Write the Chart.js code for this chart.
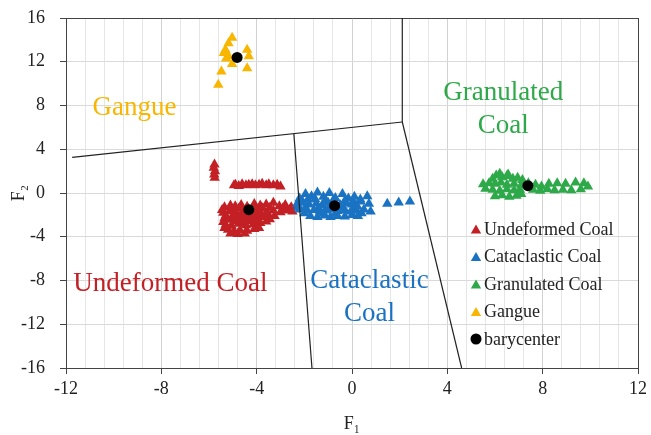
<!DOCTYPE html>
<html><head><meta charset="utf-8">
<script src="https://cdn.jsdelivr.net/npm/chart.js@4.4.1/dist/chart.umd.min.js"></script>
<style>html,body{margin:0;padding:0;background:#fff}#wrap{width:651px;height:435px;position:relative}</style>
</head><body><div id="wrap"><canvas id="c"></canvas></div>
<script>
const seriesNames = ['Undeformed Coal', 'Cataclastic Coal', 'Granulated Coal', 'Gangue', 'barycenter'];
const seriesColors = ['#C32025', '#1A73C2', '#2EA949', '#F8B600', '#000000'];

const undeformedCoal = [
  [-5.77,2.6],[-5.8,2.3],[-5.75,2.0],[-5.78,1.7],[-5.76,1.4],
  [-4.95,0.7],[-4.89,0.75],[-4.75,0.65],[-4.61,0.8],[-4.45,0.7],[-4.33,0.75],[-4.19,0.8],[-4.05,0.7],[-3.9,0.75],[-3.77,0.85],[-3.6,0.7],[-3.49,0.8],[-3.3,0.7],[-3.14,0.75],[-3.0,0.6],
  [-5.35,-1.3],[-5.1,-1.15],[-4.9,-1.2],[-4.65,-1.1],[-4.4,-1.25],[-4.1,-1.0],[-3.85,-1.15],[-3.6,-1.05],[-3.3,-0.9],[-3.05,-1.2],[-2.8,-1.1],[-2.55,-1.3],[-2.35,-1.25],
  [-5.45,-1.55],[-5.0,-1.5],[-4.75,-1.45],[-4.0,-1.45],[-3.75,-1.4],[-3.45,-1.35],[-2.9,-1.4],[-2.6,-1.5],
  [-5.4,-1.8],[-5.15,-1.7],[-4.85,-1.9],[-4.6,-1.75],[-4.2,-1.8],[-3.9,-1.7],[-3.6,-1.85],[-3.3,-1.6],[-3.0,-1.75],[-2.75,-1.6],[-2.5,-1.7],
  [-5.3,-2.05],[-5.0,-2.1],[-4.65,-2.05],[-4.35,-2.0],[-4.05,-2.05],[-3.8,-1.95],[-3.5,-2.0],
  [-5.35,-2.3],[-5.1,-2.45],[-4.8,-2.3],[-4.5,-2.4],[-4.25,-2.2],[-3.95,-2.35],[-3.7,-2.2],[-3.45,-2.4],[-3.25,-2.1],
  [-5.4,-2.65],[-4.95,-2.6],[-4.6,-2.65],[-4.3,-2.55],[-4.0,-2.6],
  [-5.3,-2.9],[-5.05,-3.0],[-4.75,-2.8],[-4.45,-2.95],[-4.15,-2.85],[-3.85,-2.75],[-3.6,-2.6],
  [-5.35,-3.2],[-5.2,-3.35],[-4.95,-3.5],[-4.7,-3.4],[-4.4,-3.45],[-4.1,-3.3],[-3.9,-3.2],[-5.1,-3.7],[-4.8,-3.75],[-4.5,-3.7]
];
const cataclasticCoal = [
  [-2.2,-0.5],[-1.95,-0.1],[-1.7,-0.3],[-1.45,0.05],[-1.2,-0.35],[-0.95,0.0],[-0.7,-0.45],[-0.4,-0.1],[-0.15,-0.5],[0.1,-0.35],[0.35,-0.6],[0.64,-0.3],
  [-2.1,-0.7],[-1.85,-0.6],[-1.55,-0.55],[-1.1,-0.65],[-0.8,-0.7],[-0.3,-0.7],[0.05,-0.75],
  [-2.3,-1.0],[-2.05,-0.9],[-1.8,-1.05],[-1.5,-0.95],[-1.25,-1.1],[-1.0,-0.9],[-0.75,-1.0],[-0.5,-1.1],[-0.25,-0.95],[0.0,-1.05],[0.22,-1.2],[0.36,-0.77],[0.71,-0.98],[1.48,-0.98],[1.96,-0.86],[2.43,-0.77],
  [-2.25,-1.3],[-1.95,-1.3],[-1.4,-1.35],[-0.95,-1.3],[-0.45,-1.35],[0.1,-1.4],
  [-2.2,-1.5],[-1.9,-1.6],[-1.6,-1.55],[-1.35,-1.7],[-1.1,-1.6],[-0.85,-1.5],[-0.6,-1.65],[-0.3,-1.55],[-0.05,-1.7],[0.2,-1.6],[0.5,-1.5],[0.78,-1.68],
  [-2.0,-1.85],[-1.2,-1.85],[-0.7,-1.9],[0.4,-1.85],
  [-1.75,-2.1],[-1.45,-2.2],[-1.15,-2.05],[-0.9,-2.2],[-0.6,-2.1],[-0.3,-2.15],[0.0,-2.0],[0.25,-2.1]
];
const granulatedCoal = [
  [6.2,1.75],[6.55,1.7],
  [5.9,1.3],[6.05,1.6],[6.3,1.45],[6.5,1.55],[6.75,1.3],[6.95,1.4],[7.15,1.2],
  [5.5,0.8],[5.75,0.9],[6.0,0.85],[6.25,0.95],[6.5,0.75],[6.8,0.85],[7.1,0.7],[7.4,0.9],[7.7,0.75],[7.95,0.6],[8.26,0.85],[8.61,0.9],[8.96,0.85],[9.38,0.95],[9.73,0.9],[9.9,0.6],
  [5.6,0.4],[5.9,0.3],[6.2,0.2],[6.5,0.35],[6.8,0.25],[7.05,0.3],[7.6,0.3],[7.9,0.2],[8.2,0.35],[8.5,0.25],[8.85,0.3],[9.2,0.25],[9.6,0.35],
  [6.0,-0.3],[6.3,-0.2],[6.6,-0.35],[6.9,-0.25],[7.1,-0.1]
];
const gangue = [
  [-5.03,14.2],[-5.18,13.7],[-5.31,13.1],[-5.38,12.8],[-4.4,13.1],[-4.33,12.5],[-5.03,11.8],[-4.4,11.4],[-5.48,11.1],[-5.61,9.9],[-5.18,12.5],[-5.28,12.3]
];
const barycenters = [[-4.33,-1.53],[-0.73,-1.16],[7.38,0.67],[-4.82,12.4]];

const boundaryLines = [
  [[-11.74,3.25],[2.11,6.49]],
  [[2.11,6.49],[2.11,16]],
  [[2.11,6.49],[4.6,-16]],
  [[-2.44,5.39],[-1.68,-16]]
];
const regionLabelLines = [['Gangue'], ['Granulated', 'Coal'], ['Undeformed Coal'], ['Cataclastic', 'Coal']];
const xRange = [-12, 12];
const yRange = [-16, 16];
const axisTitles = ['F\u2081', 'F\u2082'];

const FONT = "'Liberation Serif', 'Times New Roman', serif";
Chart.defaults.font.family = FONT;
Chart.defaults.color = '#222';

const toXY = arr => arr.map(p => ({x: p[0], y: p[1]}));
const pointSets = [undeformedCoal, cataclasticCoal, granulatedCoal, gangue, barycenters];

const datasets = [];
boundaryLines.forEach(seg => datasets.push({
  data: toXY(seg), showLine: true, borderColor: '#222', borderWidth: 1.2,
  pointRadius: 0, fill: false, order: -1, legendEntry: false
}));
pointSets.forEach((set, i) => datasets.push({
  label: seriesNames[i], data: toXY(set),
  backgroundColor: seriesColors[i], borderColor: seriesColors[i],
  pointStyle: i === 4 ? 'circle' : 'triangle',
  pointRadius: i === 4 ? 5.5 : 6, borderWidth: 0, pointBorderWidth: 0,
  order: 4 - i, legendEntry: true
}));

const isMajorX = v => Math.abs(Math.round(v * 10) / 10 % 4) < 1e-6;

const regionLabelPlugin = {
  id: 'regionLabels',
  afterDatasetsDraw(chart, args, opts) {
    const {ctx, scales} = chart;
    ctx.save();
    ctx.font = opts.size + 'px ' + FONT;
    ctx.textAlign = 'center';
    ctx.textBaseline = 'alphabetic';
    opts.items.forEach((it, k) => {
      ctx.fillStyle = seriesColors[it.series];
      const px = scales.x.getPixelForValue(it.x);
      const py = scales.y.getPixelForValue(it.y);
      regionLabelLines[k].forEach((line, j) => ctx.fillText(line, px, py + j * opts.lineGap));
    });
    ctx.restore();
  }
};

const innerLegendPlugin = {
  id: 'innerLegend',
  afterDraw(chart, args, opts) {
    const {ctx, chartArea} = chart;
    const items = chart.data.datasets.filter(d => d.legendEntry);
    const lx = chartArea.right - opts.offsetRight;
    let ly = chartArea.top + opts.offsetTop;
    ctx.save();
    ctx.font = opts.size + 'px ' + FONT;
    ctx.textAlign = 'left';
    ctx.textBaseline = 'middle';
    items.forEach(d => {
      ctx.fillStyle = d.backgroundColor;
      const r = d.pointRadius;
      ctx.beginPath();
      if (d.pointStyle === 'circle') {
        ctx.arc(lx, ly, r, 0, Math.PI * 2);
      } else {
        let rad = 0;
        for (let k = 0; k < 3; k++) {
          const xx = lx + Math.sin(rad) * r, yy = ly - Math.cos(rad) * r + r * 0.25;
          k === 0 ? ctx.moveTo(xx, yy) : ctx.lineTo(xx, yy);
          rad += Math.PI * 2 / 3;
        }
        ctx.closePath();
      }
      ctx.fill();
      ctx.fillStyle = '#222';
      ctx.fillText(d.label, lx + 8, ly + 1);
      ly += opts.rowGap;
    });
    ctx.restore();
  }
};

const zeroPad = s => { s.paddingTop = 0; s.paddingBottom = 0; s.paddingLeft = 0; s.paddingRight = 0; };

new Chart(document.getElementById('c'), {
  type: 'scatter',
  data: { datasets },
  plugins: [regionLabelPlugin, innerLegendPlugin],
  options: {
    responsive: true, maintainAspectRatio: false, animation: false, events: [],
    layout: { padding: 0 },
    plugins: {
      legend: { display: false }, tooltip: { enabled: false },
      regionLabels: {
        size: 27, lineGap: 33,
        items: [
          {series: 3, x: -9.13, y: 7.16},
          {series: 2, x: 6.35, y: 8.52},
          {series: 0, x: -7.62, y: -8.99},
          {series: 1, x: 0.73, y: -8.66}
        ]
      },
      innerLegend: { size: 18, offsetRight: 162, offsetTop: 211, rowGap: 27.5 }
    },
    scales: {
      x: {
        type: 'linear', position: 'bottom', min: xRange[0], max: xRange[1],
        afterFit: s => { s.height = 67; zeroPad(s); },
        ticks: {
          stepSize: 0.8, autoSkip: false, maxRotation: 0, minRotation: 0, padding: 4,
          font: {size: 18}, color: '#222',
          callback: v => isMajorX(v) ? String(Math.round(v)) : ''
        },
        grid: {
          color: c => (c.tick && isMajorX(c.tick.value)) ? '#d2d2d2' : '#e6e6e6',
          tickColor: c => (c.tick && isMajorX(c.tick.value)) ? '#444' : 'rgba(0,0,0,0)',
          tickLength: 6, lineWidth: 1
        },
        border: { color: '#444', width: 1 },
        title: { display: true, text: axisTitles[0], font: {size: 18}, color: '#222', padding: {top: 3, bottom: 0} }
      },
      y: {
        type: 'linear', position: 'left', min: yRange[0], max: yRange[1],
        afterFit: s => { s.width = 66; zeroPad(s); },
        ticks: { stepSize: 4, padding: 15, font: {size: 18}, color: '#222' },
        grid: { color: '#dadada', tickColor: '#444', tickLength: 6, lineWidth: 1 },
        border: { color: '#444', width: 1 },
        title: { display: true, text: axisTitles[1], font: {size: 18}, color: '#222', padding: {top: 8, bottom: 0} }
      },
      x2: {
        type: 'linear', position: 'top', min: xRange[0], max: xRange[1],
        afterFit: s => { s.height = 18; zeroPad(s); },
        ticks: { display: false }, grid: { display: false, drawTicks: false },
        border: { display: true, color: '#444', width: 1 }
      },
      y2: {
        type: 'linear', position: 'right', min: yRange[0], max: yRange[1],
        afterFit: s => { s.width = 13; zeroPad(s); },
        ticks: { display: false }, grid: { display: false, drawTicks: false },
        border: { display: true, color: '#444', width: 1 }
      }
    }
  }
});
</script>
</body></html>
